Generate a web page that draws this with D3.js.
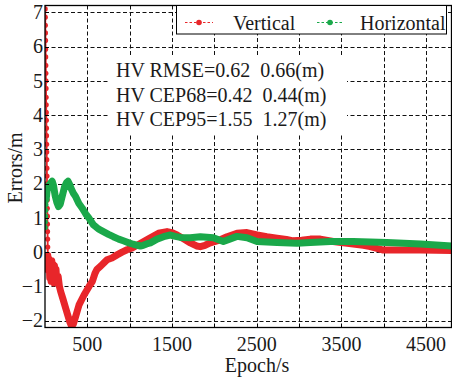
<!DOCTYPE html>
<html>
<head>
<meta charset="utf-8">
<script src="https://cdn.jsdelivr.net/npm/d3@7"></script>
<style>
  body { margin: 0; background: #fff; }
  svg { display: block; }
  text { font-family: "Liberation Serif", "Times New Roman", serif; fill: #1a1a1a; white-space: pre; }
</style>
</head>
<body>
<svg id="chart" width="452" height="380"></svg>
<script>
// ---- data ----
const gridEpochs = [500, 1000, 1500, 2000, 2500, 3000, 3500, 4000, 4500];
const labelEpochs = [500, 1500, 2500, 3500, 4500];
const yTicks = [-2, -1, 0, 1, 2, 3, 4, 5, 6, 7];
const seriesNames = ["Vertical", "Horizontal"];
const seriesColors = ["#e8262a", "#1aa84a"];
const statLines = [
  "HV RMSE=0.62  0.66(m)",
  "HV CEP68=0.42  0.44(m)",
  "HV CEP95=1.55  1.27(m)"
];

// vertical error: first epochs (sparse, steep drop) and settled trace
const vertBurstEpoch = [1,2,3,4,5,6,7,8,9,10,11,12,13,14,15,16,17,18,19,20,21,22,23,24,25,26,27,28,29,30,31,32,33];
const vertBurstError = [7.32,7.1,6.86,6.62,6.4,6.18,5.92,5.7,5.45,5.22,5.0,4.78,4.52,4.3,4.08,3.85,3.62,3.4,3.15,2.92,2.7,2.45,2.22,2.0,1.75,1.52,1.28,1.05,0.82,0.6,0.38,0.15,-0.08];
const vertEpoch = [33,40,48,56,64,72,80,88,96,104,112,120,130,140,155,170,185,210,240,270,295,315,335,362,402,461,520,560,590,614,660,700,733,790,851,910,969,1030,1087,1160,1244,1340,1441,1500,1559,1640,1716,1790,1834,1890,1952,2070,2150,2267,2385,2504,2620,2740,2850,2932,3030,3133,3251,3404,3520,3640,3760,3841,3930,3995,4200,4435,4800];
const vertError = [-0.1,-0.55,-0.2,-0.75,-0.3,-0.85,-0.25,-0.8,-0.35,-0.9,-0.4,-0.85,-0.5,-0.9,-0.7,-1.0,-1.15,-1.35,-1.6,-1.85,-2.05,-2.17,-2.1,-1.88,-1.54,-1.25,-1.0,-0.85,-0.62,-0.5,-0.4,-0.3,-0.22,-0.17,-0.08,0.0,0.07,0.12,0.2,0.3,0.42,0.55,0.6,0.57,0.5,0.38,0.27,0.18,0.16,0.2,0.27,0.36,0.45,0.55,0.57,0.5,0.45,0.41,0.37,0.33,0.35,0.38,0.38,0.31,0.27,0.24,0.2,0.16,0.1,0.06,0.06,0.06,0.05];

// horizontal error: first epochs and settled trace
const horiBurstEpoch = [2,4,6,8,10,12];
const horiBurstError = [0.72,0.88,1.05,1.22,1.38,1.5];
const horiEpoch = [14,25,45,70,85,100,120,140,160,180,205,230,255,272,290,310,335,362,400,438,480,517,571,630,689,750,807,870,925,990,1043,1090,1126,1161,1200,1244,1323,1400,1480,1540,1598,1716,1834,1988,2050,2106,2180,2267,2385,2504,2740,2976,3133,3369,3640,4038,4435,4800];
const horiError = [1.55,1.8,1.95,2.03,2.07,1.95,1.65,1.45,1.33,1.4,1.65,1.9,2.03,2.07,1.98,1.85,1.72,1.62,1.42,1.29,1.12,1.0,0.8,0.68,0.6,0.52,0.45,0.38,0.33,0.27,0.23,0.2,0.18,0.2,0.24,0.27,0.38,0.45,0.5,0.46,0.43,0.42,0.45,0.42,0.36,0.31,0.38,0.46,0.42,0.31,0.28,0.26,0.28,0.31,0.31,0.28,0.24,0.18];

// ---- layout ----
const svg = d3.select("#chart");
const plot = { left: 45, right: 451.5, top: 5.5, bottom: 327.5 };

const x = d3.scaleLinear().domain([0, 4800]).range([plot.left, plot.right]);
const y = d3.scaleLinear().domain([-2.2, 7.2]).range([plot.bottom, plot.top]);
const crisp = v => Math.round(v) + 0.5;

svg.append("defs").append("clipPath").attr("id", "plotClip")
  .append("rect")
  .attr("x", plot.left).attr("y", plot.top)
  .attr("width", plot.right - plot.left).attr("height", plot.bottom - plot.top);

// grid
const grid = svg.append("g").attr("stroke", "#111").attr("stroke-width", 1).attr("stroke-dasharray", "4,2.5");
grid.selectAll("line.gx").data(gridEpochs).join("line")
  .attr("x1", d => crisp(x(d))).attr("x2", d => crisp(x(d)))
  .attr("y1", plot.top).attr("y2", plot.bottom);
grid.selectAll("line.gy").data(yTicks).join("line")
  .attr("x1", plot.left).attr("x2", plot.right)
  .attr("y1", d => crisp(y(d))).attr("y2", d => crisp(y(d)));

// traces
const line = d3.line().x(d => x(d[0])).y(d => y(d[1]));
const traces = svg.append("g").attr("clip-path", "url(#plotClip)");

function drawSeries(burstE, burstV, mainE, mainV, color) {
  const burst = burstE.map((e, i) => [e, burstV[i]]);
  const main = mainE.map((e, i) => [e, mainV[i]]);
  traces.append("path").datum(burst.concat(main.slice(0, 1)))
    .attr("d", line).attr("fill", "none")
    .attr("stroke", color).attr("stroke-width", 1.8);
  traces.append("g").selectAll("circle").data(burst).join("circle")
    .attr("cx", d => x(d[0])).attr("cy", d => y(d[1])).attr("r", 2.6)
    .attr("fill", color);
  traces.append("path").datum(main)
    .attr("d", line).attr("fill", "none")
    .attr("stroke", color).attr("stroke-width", 7)
    .attr("stroke-linejoin", "round").attr("stroke-linecap", "round");
}
drawSeries(vertBurstEpoch, vertBurstError, vertEpoch, vertError, seriesColors[0]);
drawSeries(horiBurstEpoch, horiBurstError, horiEpoch, horiError, seriesColors[1]);

// statistics box
svg.append("rect").attr("x", 110).attr("y", 55).attr("width", 237).attr("height", 80).attr("fill", "#fff");
svg.append("g").selectAll("text").data(statLines).join("text")
  .attr("x", 116).attr("y", (d, i) => 77 + i * 24.5)
  .attr("font-size", 20).text(d => d);

// axes frame
svg.append("rect")
  .attr("x", plot.left).attr("y", plot.top)
  .attr("width", plot.right - plot.left).attr("height", plot.bottom - plot.top)
  .attr("fill", "none").attr("stroke", "#000").attr("stroke-width", 1.3);

// inward ticks
const tk = svg.append("g").attr("stroke", "#000").attr("stroke-width", 1);
tk.selectAll("line.ty").data(yTicks).join("line")
  .attr("x1", plot.left).attr("x2", plot.left + 4)
  .attr("y1", d => crisp(y(d))).attr("y2", d => crisp(y(d)));
tk.selectAll("line.tx").data(gridEpochs).join("line")
  .attr("x1", d => crisp(x(d))).attr("x2", d => crisp(x(d)))
  .attr("y1", plot.bottom).attr("y2", plot.bottom - 4);

// tick labels
svg.append("g").selectAll("text").data(yTicks).join("text")
  .attr("x", 43).attr("y", d => y(d)).attr("dy", "0.34em")
  .attr("text-anchor", "end").attr("font-size", 20)
  .text(d => d < 0 ? "\u2212" + Math.abs(d) : String(d));
svg.append("g").selectAll("text").data(labelEpochs).join("text")
  .attr("x", d => x(d)).attr("y", 351)
  .attr("text-anchor", "middle").attr("font-size", 20)
  .text(d => String(d));

// axis titles
svg.append("text").attr("x", 257).attr("y", 372)
  .attr("text-anchor", "middle").attr("font-size", 20).text("Epoch/s");
svg.append("text")
  .attr("transform", "translate(22,168) rotate(-90)")
  .attr("text-anchor", "middle").attr("font-size", 20).text("Errors/m");

// legend
const lg = svg.append("g");
lg.append("rect").attr("x", 176.5).attr("y", plot.top).attr("width", 270).attr("height", 28.5)
  .attr("fill", "#fff").attr("stroke", "#000").attr("stroke-width", 1);
const legendItems = [
  { name: seriesNames[0], color: seriesColors[0], x0: 185, x1: 213, tx: 233 },
  { name: seriesNames[1], color: seriesColors[1], x0: 317, x1: 343, tx: 360 }
];
legendItems.forEach(it => {
  lg.append("line").attr("x1", it.x0).attr("x2", it.x1).attr("y1", 22.5).attr("y2", 22.5)
    .attr("stroke", it.color).attr("stroke-width", 1.2).attr("stroke-dasharray", "2.5,2");
  lg.append("circle").attr("cx", (it.x0 + it.x1) / 2).attr("cy", 22.5).attr("r", 2.8).attr("fill", it.color);
  lg.append("text").attr("x", it.tx).attr("y", 29.5).attr("font-size", 20).text(it.name);
});
</script>
</body>
</html>
